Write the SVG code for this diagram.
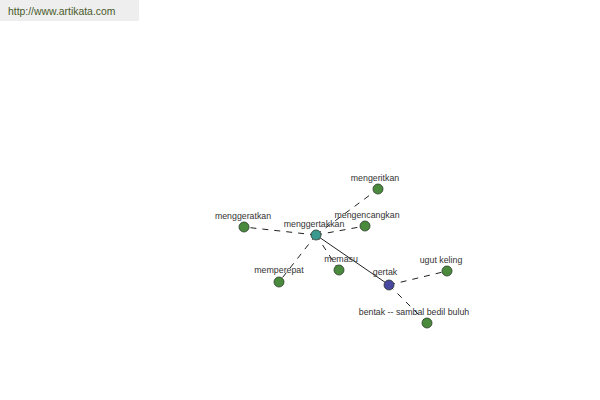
<svg xmlns="http://www.w3.org/2000/svg" width="600" height="400" viewBox="0 0 600 400">
<style>
.n{stroke:#2a3a2a;stroke-width:0.8}
.g{fill:#4a8a3c}
.t{fill:#3a9a90}
.b{fill:#4848a0}
.l{font-family:"Liberation Sans",Arial,sans-serif;font-size:8.8px;fill:#333;text-anchor:middle}
.e{stroke:#222;stroke-width:1;fill:none}
.d{stroke-dasharray:6,6}
</style>
<rect x="0" y="0" width="600" height="400" fill="#fff"/>
<rect x="0" y="0" width="139" height="21" fill="#eeeeee"/>
<text x="8" y="15" font-family="Liberation Sans,Arial,sans-serif" font-size="10.4" fill="#4a5a2a">http://www.artikata.com</text>
<g id="connectors">
<line class="e d" x1="316" y1="235" x2="244" y2="227"/>
<line class="e d" x1="316" y1="235" x2="378" y2="189"/>
<line class="e d" x1="316" y1="235" x2="365" y2="226"/>
<line class="e d" x1="316" y1="235" x2="339" y2="270"/>
<line class="e d" x1="316" y1="235" x2="279" y2="282"/>
<line class="e" x1="316" y1="235" x2="389" y2="285"/>
<line class="e d" x1="389" y1="285" x2="447" y2="271"/>
<line class="e d" x1="389" y1="285" x2="427" y2="323"/>
</g>
<g id="mengeritkan"><circle class="n g" cx="378" cy="189" r="5"/><text class="l" x="375" y="181">mengeritkan</text></g>
<g id="menggeratkan"><circle class="n g" cx="244" cy="227" r="5"/><text class="l" x="243" y="219">menggeratkan</text></g>
<g id="mengencangkan"><circle class="n g" cx="365" cy="226" r="5"/><text class="l" x="367" y="218">mengencangkan</text></g>
<g id="memasu"><circle class="n g" cx="339" cy="270" r="5"/><text class="l" x="341" y="262">memasu</text></g>
<g id="memperepat"><circle class="n g" cx="279" cy="282" r="5"/><text class="l" x="279" y="273">memperepat</text></g>
<g id="ugut-keling"><circle class="n g" cx="447" cy="271" r="5"/><text class="l" x="441" y="263">ugut keling</text></g>
<g id="bentak"><circle class="n g" cx="427" cy="323" r="5"/><text class="l" x="414" y="315">bentak -- sambal bedil buluh</text></g>
<g id="menggertakkan"><circle class="n t" cx="316" cy="235" r="5"/><text class="l" x="314" y="227">menggertakkan</text></g>
<g id="gertak"><circle class="n b" cx="389" cy="285" r="5"/><text class="l" x="385" y="275">gertak</text></g>
</svg>
